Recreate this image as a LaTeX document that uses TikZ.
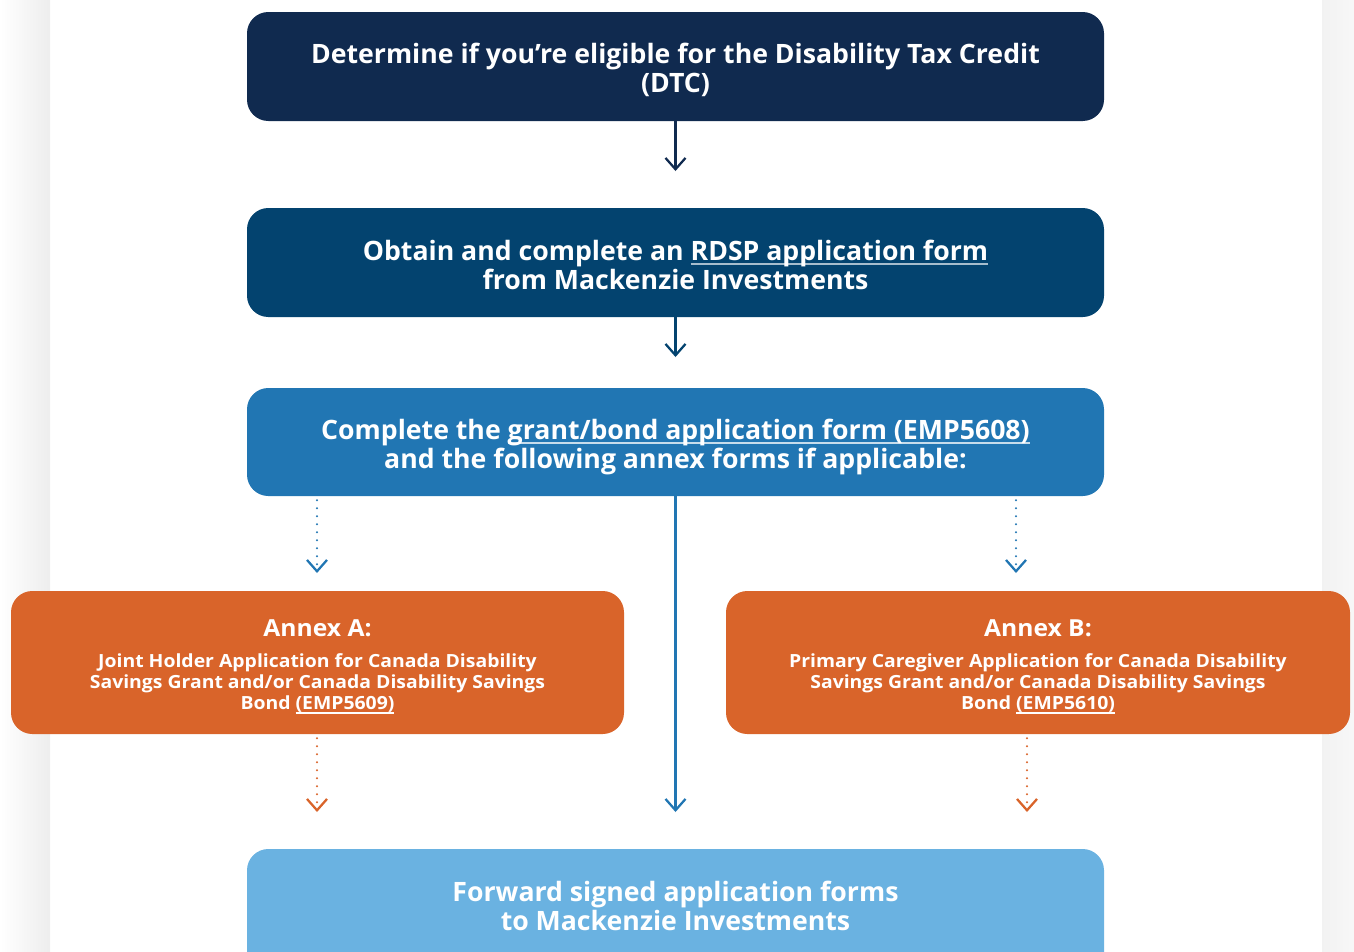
\documentclass[tikz,border=0pt]{standalone}
\usepackage{fontspec}
\setmainfont{Open Sans}
\usetikzlibrary{arrows.meta}
\newsavebox{\lnkbox}
\newcommand{\lnk}[2][white]{\sbox{\lnkbox}{#2}\rlap{\textcolor{#1}{\rule[-3.6pt]{\wd\lnkbox}{1.4pt}}}\usebox{\lnkbox}}
\definecolor{cnavy}{HTML}{102A4F}
\definecolor{cdeep}{HTML}{03436F}
\definecolor{cblue}{HTML}{2176B3}
\definecolor{corange}{HTML}{D9642A}
\definecolor{clight}{HTML}{6AB2E1}
\begin{document}
\begin{tikzpicture}[x=0.75pt,y=-0.75pt,
  box/.style={rounded corners=16pt, inner sep=0pt},
  mainbox/.style={box, minimum width=642.75pt, minimum height=81.75pt},
  annexbox/.style={box, fill=corange, minimum height=107.25pt},
  txt/.style={inner sep=0pt, text=white, align=center,
    font=\bfseries\fontsize{20}{21.75}\selectfont},
  titletxt/.style={txt, font=\bfseries\fontsize{17.6}{19}\selectfont\addfontfeatures{FakeStretch=1.05}},
  bodytxt/.style={txt, font=\bfseries\fontsize{13.6}{15.75}\selectfont\addfontfeatures{FakeStretch=1.07}},
  flow/.style={line width=1.7pt, -{Straight Barb[length=8.5pt, width=15pt, line width=1.7pt]}},
  dotflow/.style={flow, line cap=round, dash pattern=on 0pt off 6pt}
]
\useasboundingbox (0,0) rectangle (1354,951);
\shade[left color=white, right color=black!7] (0,0) rectangle (50,951);
\shade[left color=black!5, right color=black!3] (1322,0) rectangle (1354,951);

\node[mainbox, fill=cnavy] (b1) at (675.5,66.5) {};
\node[txt] (b1t) at (675.5,70)
  {Determine if you’re eligible for the Disability Tax Credit\\(DTC)};
\node[mainbox, fill=cdeep] (b2) at (675.5,262.5) {};
\node[txt] (b2t) at (675.5,264.5)
  {Obtain and complete an \lnk[white!65!cdeep]{RDSP application form}\\from Mackenzie Investments};
\node[mainbox, fill=cblue, minimum height=81pt] (b3) at (675.5,442) {};
\node[txt] (b3t) at (675.5,447)
  {Complete the \lnk[white!75!cblue]{grant/bond application form (EMP5608)}\\and the following annex forms if applicable:};

\node[annexbox, minimum width=459.75pt] (ba) at (317.5,662.5) {};
\node[titletxt] (bat) at (317.5,628) {Annex A:};
\node[bodytxt] (bab) at (317.5,684)
  {Joint Holder Application for Canada Disability\\Savings Grant and/or Canada Disability Savings\\Bond \lnk{(EMP5609)}};
\node[annexbox, minimum width=468pt] (bb) at (1038,662.5) {};
\node[titletxt] (bbt) at (1038,628) {Annex B:};
\node[bodytxt] (bbb) at (1038,684)
  {Primary Caregiver Application for Canada Disability\\Savings Grant and/or Canada Disability Savings\\Bond \lnk{(EMP5610)}};

\node[mainbox, fill=clight, minimum height=120pt] (b4) at (675.5,929) {};
\node[txt] (b4t) at (675.5,905.5) {Forward signed application forms\\to Mackenzie Investments};

\coordinate (t1) at (675.5,171);
\coordinate (t2) at (675.5,357);
\coordinate (t3) at (675.5,812);
\coordinate (ta1) at (317,573);
\coordinate (tb1) at (1016,573);
\coordinate (ta2) at (317,812);
\coordinate (tb2) at (1027,812);

\draw[flow, cnavy] (b1.south) -- (t1);
\draw[flow, cdeep] (b2.south) -- (t2);
\draw[flow, cblue] (b3.south) -- (t3);
\draw[dotflow, cblue] (b3.south -| ta1) ++(0,4) -- (ta1);
\draw[dotflow, cblue] (b3.south -| tb1) ++(0,4) -- (tb1);
\draw[dotflow, corange] (ba.south -| ta2) ++(0,4) -- (ta2);
\draw[dotflow, corange] (bb.south -| tb2) ++(0,4) -- (tb2);
\end{tikzpicture}
\end{document}
